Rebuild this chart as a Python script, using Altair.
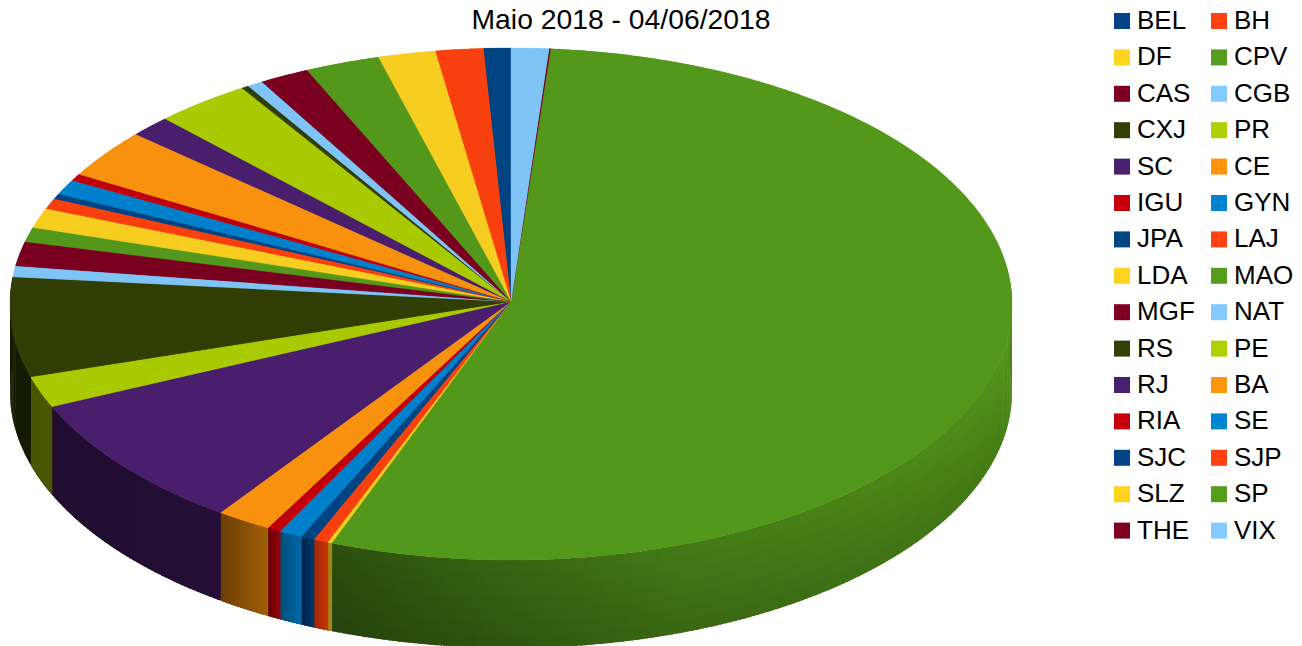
import numpy as np
import altair as alt

names = ["BEL","BH","DF","CPV","CAS","CGB","CXJ","PR","SC","CE","IGU","GYN","JPA","LAJ","LDA",
         "MAO","MGF","NAT","RS","PE","RJ","BA","RIA","SE","SJC","SJP","SLZ","SP","THE","VIX"]
shares = [0.88,1.54,1.85,2.41,1.61,0.51,0.23,3.11,1.34,3.08,0.44,0.94,0.33,0.67,1.25,
          0.92,1.53,0.69,6.28,1.97,8.58,1.78,0.44,0.75,0.44,0.47,0.14,54.54,0.05,1.21]
palette = ["#004586","#ff420e","#ffd320","#579d1c","#7e0021","#83caff",
           "#314004","#aecf00","#4b1f6f","#ff950e","#c5000b","#0084d1"]
colors = [palette[i % 12] for i in range(len(names))]
title_text = ["Maio 2018 - 04/06/2018"]

RX, RY, DEPTH = 501.0, 256.0, 88.0
CX, CY = 503.0, 296.0
TOP_FACTOR = 0.97

def rim(deg):
    t = np.radians(deg)
    return [float(-RX*np.sin(t)), float(RY*np.cos(t))]

def shade(hex_color, f):
    rgb = [int(hex_color[i:i+2], 16) for i in (1, 3, 5)]
    return "#%02x%02x%02x" % tuple(min(255, int(round(c*f))) for c in rgb)

def side_factor(name, frac, deg):
    front = {"RJ": (.42, .50), "BA": (.42, .64), "RIA": (.50, .78), "SE": (.58, .80),
             "SJC": (.55, .80), "SJP": (.62, .80), "SLZ": (.60, .65)}
    if name == "SP":
        return float(np.interp(deg, [159, 200, 250, 270], [.50, .78, .92, 1.0]))
    if name in front:
        a, b = front[name]
        return a + (b-a)*frac**(3 if name == "RJ" else 1)
    return .42

total = sum(shares)
edges = np.concatenate([[0], np.cumsum(shares)]) / total * 360.0

tops, sides = [], []
for i, name in enumerate(names):
    a, b = float(edges[i]), float(edges[i+1])
    arc = np.linspace(a, b, max(2, int((b-a)/0.5)+2))
    ring = [[0.0, 2.0]] + [rim(d) for d in arc] + [[0.0, 2.0]]
    tops.append({"type": "Feature",
                 "properties": {"name": name, "shade": shade(colors[i], TOP_FACTOR)},
                 "geometry": {"type": "Polygon", "coordinates": [ring]}})
    lo, hi = max(a, 84.0), min(b, 276.0)
    if hi > lo:
        n = max(2, int((hi-lo)/(0.15 if hi-lo < 10 else 0.6))+1)
        grid = np.linspace(lo, hi, n+1)
        rows = 7 if name == "SP" else 1
        for j in range(n):
            end = min(grid[j+1]+0.4, 276.0)
            arc2 = np.linspace(grid[j], end, 4)
            upper = [rim(d) for d in arc2]
            mid = (grid[j]+grid[j+1])/2
            base = side_factor(name, (mid-a)/(b-a), mid)
            for r in range(rows):
                d1 = DEPTH*r/rows
                d2 = DEPTH*(r+1)/rows + (2.0 if r < rows-1 else 0.0)
                band_top = [[p[0], p[1]-d1] for p in upper]
                band_low = [[p[0], p[1]-d2] for p in upper][::-1]
                poly = band_top + band_low + [band_top[0]]
                f = base*(1-0.16*(r+0.5)/rows) if rows > 1 else base
                sides.append({"type": "Feature", "properties": {"shade": shade(colors[i], f)},
                              "geometry": {"type": "Polygon", "coordinates": [poly]}})

proj = dict(type="identity", reflectY=True, scale=1, translate=[CX, CY])

side_layer = alt.Chart(alt.Data(values=sides)).mark_geoshape(strokeWidth=0).encode(
    fill=alt.Fill("properties.shade:N", scale=None, legend=None),
).project(**proj)

scale = alt.Scale(domain=names, range=colors)
legend_layer = alt.Chart(alt.Data(values=tops)).mark_geoshape(strokeWidth=0).encode(
    color=alt.Color("properties.name:N", scale=scale, sort=None, legend=alt.Legend(
        title=None, orient="none", legendX=1101, legendY=0, columns=2, direction="horizontal",
        symbolType="square", symbolSize=256, symbolStrokeWidth=0, symbolOpacity=1,
        labelFont="Liberation Sans", labelFontSize=26, labelColor="#000000",
        labelOffset=2, rowPadding=10.4, columnPadding=11, padding=0, labelLimit=200)),
).project(**proj)

top_layer = alt.Chart(alt.Data(values=tops)).mark_geoshape(strokeWidth=0.3).encode(
    fill=alt.Fill("properties.shade:N", scale=None, legend=None),
    stroke=alt.Stroke("properties.shade:N", scale=None, legend=None),
).project(**proj)

title_layer = alt.Chart(alt.Data(values=[{"t": t} for t in title_text])).mark_text(
    font="Liberation Sans", fontSize=28.3, color="#000000", align="center", baseline="alphabetic"
).encode(text="t:N", x=alt.value(613), y=alt.value(21))

chart = alt.layer(side_layer, legend_layer, top_layer, title_layer).resolve_scale(
    color="independent", fill="independent", stroke="independent"
).resolve_legend(color="independent", fill="independent", stroke="independent").properties(
    width=1286, height=638, padding=0,
    autosize=alt.AutoSizeParams(type="none"),
).configure_view(stroke=None)

chart.save("out.html", embed_options={"renderer": "svg", "actions": False})
